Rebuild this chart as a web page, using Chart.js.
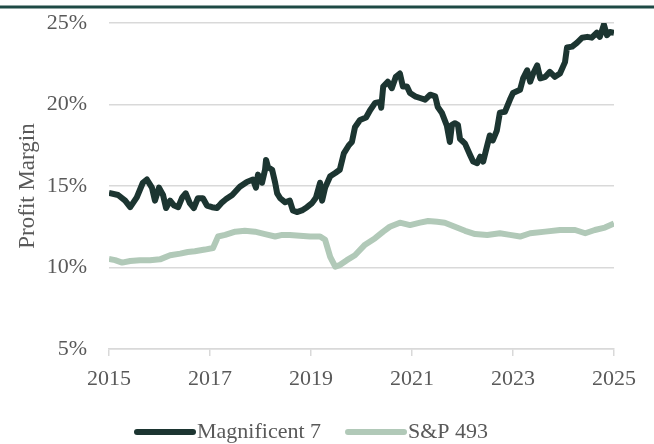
<!DOCTYPE html>
<html>
<head>
<meta charset="utf-8">
<script src="https://cdn.jsdelivr.net/npm/chart.js@4"></script>
<style>
  html, body { margin: 0; padding: 0; background: #fff; overflow: hidden; }
  #wrap { width: 654px; height: 444px; position: relative; }
</style>
</head>
<body>
<div id="wrap"><canvas id="marginChart"></canvas></div>
<script>
// Magnificent 7 profit margin (%), by decimal year
const mag7Years = [2015.00, 2015.18, 2015.32, 2015.42, 2015.55, 2015.67, 2015.75, 2015.85, 2015.91, 2015.99,
  2016.07, 2016.13, 2016.21, 2016.29, 2016.37, 2016.45, 2016.52, 2016.60, 2016.68, 2016.76, 2016.86, 2016.94,
  2017.04, 2017.14, 2017.24, 2017.32, 2017.44, 2017.59, 2017.73, 2017.85, 2017.91, 2017.95,
  2018.03, 2018.09, 2018.11, 2018.15, 2018.23, 2018.29, 2018.33, 2018.39, 2018.49, 2018.58, 2018.64, 2018.72, 2018.82, 2018.92,
  2019.02, 2019.10, 2019.18, 2019.22, 2019.28, 2019.38, 2019.48, 2019.57, 2019.65, 2019.75, 2019.81, 2019.87, 2019.97,
  2020.09, 2020.17, 2020.27, 2020.37, 2020.39, 2020.43, 2020.52, 2020.60, 2020.68, 2020.76, 2020.82, 2020.90, 2020.96,
  2021.06, 2021.16, 2021.26, 2021.36, 2021.46, 2021.51, 2021.59, 2021.69, 2021.75, 2021.79, 2021.85, 2021.91, 2021.95,
  2022.05, 2022.15, 2022.21, 2022.29, 2022.35, 2022.41, 2022.49, 2022.54, 2022.60, 2022.68, 2022.74, 2022.84, 2022.94,
  2023.00, 2023.14, 2023.20, 2023.28, 2023.34, 2023.40, 2023.48, 2023.54, 2023.64, 2023.73, 2023.83, 2023.93,
  2024.03, 2024.07, 2024.17, 2024.27, 2024.37, 2024.47, 2024.56, 2024.66, 2024.72, 2024.80, 2024.86, 2024.92, 2025.00];
const mag7Values = [14.57, 14.45, 14.1, 13.7, 14.3, 15.2, 15.4, 14.9, 14.1, 14.9,
  14.45, 13.65, 14.1, 13.8, 13.7, 14.3, 14.55, 13.95, 13.65, 14.25, 14.25, 13.8,
  13.7, 13.65, 14.0, 14.2, 14.45, 14.95, 15.25, 15.4, 14.9, 15.7,
  15.2, 16.0, 16.6, 16.15, 16.0, 15.2, 14.55, 14.25, 14.0, 14.1, 13.5, 13.4, 13.5, 13.7,
  13.95, 14.3, 15.2, 14.1, 14.9, 15.6, 15.8, 16.0, 17.0, 17.5, 17.7, 18.6, 19.05,
  19.2, 19.65, 20.1, 20.15, 19.8, 21.1, 21.4, 21.0, 21.7, 21.9, 21.1, 21.1, 20.7,
  20.5, 20.4, 20.3, 20.6, 20.5, 19.85, 19.5, 18.7, 17.7, 18.75, 18.85, 18.75, 17.9,
  17.6, 16.9, 16.5, 16.4, 16.8, 16.5, 17.5, 18.1, 17.8, 18.4, 19.5, 19.55, 20.3,
  20.7, 20.9, 21.6, 22.1, 21.4, 21.9, 22.4, 21.6, 21.7, 22.0, 21.7, 21.9,
  22.6, 23.5, 23.55, 23.8, 24.1, 24.15, 24.1, 24.4, 24.15, 24.9, 24.25, 24.45, 24.4];

// S&P 493 profit margin (%), by decimal year
const sp493Years = [2015.00, 2015.12, 2015.26, 2015.42, 2015.61, 2015.81, 2016.01, 2016.21, 2016.41, 2016.56, 2016.70, 2016.90,
  2017.06, 2017.16, 2017.30, 2017.50, 2017.69, 2017.89, 2018.09, 2018.29, 2018.43, 2018.58, 2018.78, 2018.98,
  2019.18, 2019.28, 2019.38, 2019.48, 2019.57, 2019.71, 2019.87, 2020.07, 2020.27, 2020.43, 2020.56, 2020.76, 2020.96,
  2021.16, 2021.32, 2021.50, 2021.65, 2021.85, 2022.05, 2022.25, 2022.49, 2022.74, 2022.94,
  2023.14, 2023.34, 2023.64, 2023.93, 2024.23, 2024.43, 2024.62, 2024.82, 2025.00];
const sp493Values = [10.52, 10.45, 10.3, 10.4, 10.45, 10.45, 10.5, 10.75, 10.85, 10.95, 11.0, 11.1,
  11.2, 11.9, 12.0, 12.2, 12.25, 12.2, 12.05, 11.9, 12.0, 12.0, 11.95, 11.9,
  11.9, 11.7, 10.65, 10.05, 10.15, 10.45, 10.75, 11.4, 11.8, 12.2, 12.5, 12.75, 12.6,
  12.75, 12.85, 12.8, 12.75, 12.5, 12.25, 12.05, 12.0, 12.1, 12.0,
  11.9, 12.1, 12.2, 12.3, 12.3, 12.1, 12.3, 12.45, 12.7];

const seriesNames = ["Magnificent 7", "S&P 493"];
const yTicks = [5, 10, 15, 20, 25];
const xTicks = [2015, 2017, 2019, 2021, 2023, 2025];

const darkGreen = "#1c3531";
const sageGreen = "#b1c9b8";
const textGrey = "#595959";
const gridGrey = "#d9d9d9";
const fontFamily = "'Liberation Serif', 'DejaVu Serif', serif";

const toPoints = (xs, ys) => xs.map((x, i) => ({ x: x, y: ys[i] }));

// thin rule across the top of the figure
const topRule = {
    id: "topRule",
    afterDraw(chart) {
        const c = chart.ctx;
        c.save();
        c.strokeStyle = "#1e4a45";
        c.lineWidth = 3;
        c.beginPath();
        c.moveTo(0, 7);
        c.lineTo(chart.width, 7);
        c.stroke();
        c.restore();
    },
};

// legend drawn by hand so the spacing matches
const lineLegend = {
    id: "lineLegend",
    afterDraw(chart) {
        const c = chart.ctx;
        const y = 432;
        let x = 137;
        c.save();
        c.font = "22px " + fontFamily;
        c.textBaseline = "middle";
        chart.data.datasets.forEach((ds) => {
            c.strokeStyle = ds.borderColor;
            c.lineWidth = 6;
            c.lineCap = "round";
            c.beginPath();
            c.moveTo(x, y);
            c.lineTo(x + 56, y);
            c.stroke();
            c.fillStyle = textGrey;
            c.fillText(ds.label, x + 60, y);
            x += 60 + c.measureText(ds.label).width + 27;
        });
        c.restore();
    },
};

const ctx = document.getElementById("marginChart").getContext("2d");
const chart = new Chart(ctx, {
    type: "line",
    data: {
        datasets: [
            {
                label: seriesNames[0],
                data: toPoints(mag7Years, mag7Values),
                borderColor: darkGreen,
                borderWidth: 6,
                pointRadius: 0,
                tension: 0,
                borderJoinStyle: "round",
            },
            {
                label: seriesNames[1],
                data: toPoints(sp493Years, sp493Values),
                borderColor: sageGreen,
                borderWidth: 6,
                pointRadius: 0,
                tension: 0,
                borderJoinStyle: "round",
            },
        ],
    },
    options: {
        responsive: true,
        maintainAspectRatio: false,
        animation: false,
        layout: { padding: { top: 23, right: 40, bottom: 0, left: 0 } },
        plugins: {
            legend: { display: false },
            tooltip: { enabled: false },
        },
        scales: {
            x: {
                type: "linear",
                min: 2015,
                max: 2025,
                afterBuildTicks: (axis) => { axis.ticks = xTicks.map((v) => ({ value: v })); },
                afterFit: (axis) => { axis.height = 95; },
                ticks: {
                    color: textGrey,
                    font: { family: fontFamily, size: 22 },
                    padding: 10,
                    maxRotation: 0,
                    callback: (v) => String(v),
                },
                grid: { drawOnChartArea: false, drawTicks: true, tickLength: 7, color: gridGrey, lineWidth: 1.5 },
                border: { display: true, color: gridGrey, width: 1.5 },
            },
            y: {
                min: 5,
                max: 25,
                afterBuildTicks: (axis) => { axis.ticks = yTicks.map((v) => ({ value: v })); },
                afterFit: (axis) => { axis.width = 109; axis.paddingTop = 0; axis.paddingBottom = 0; },
                ticks: {
                    color: textGrey,
                    font: { family: fontFamily, size: 22 },
                    padding: 22,
                    callback: (v) => v + "%",
                },
                grid: { color: gridGrey, lineWidth: 1.5, drawTicks: false },
                border: { display: false },
                title: {
                    display: true,
                    text: "Profit Margin",
                    color: textGrey,
                    font: { family: fontFamily, size: 23 },
                    padding: { top: 14, bottom: 0 },
                },
            },
        },
    },
    plugins: [topRule, lineLegend],
});
</script>
</body>
</html>
